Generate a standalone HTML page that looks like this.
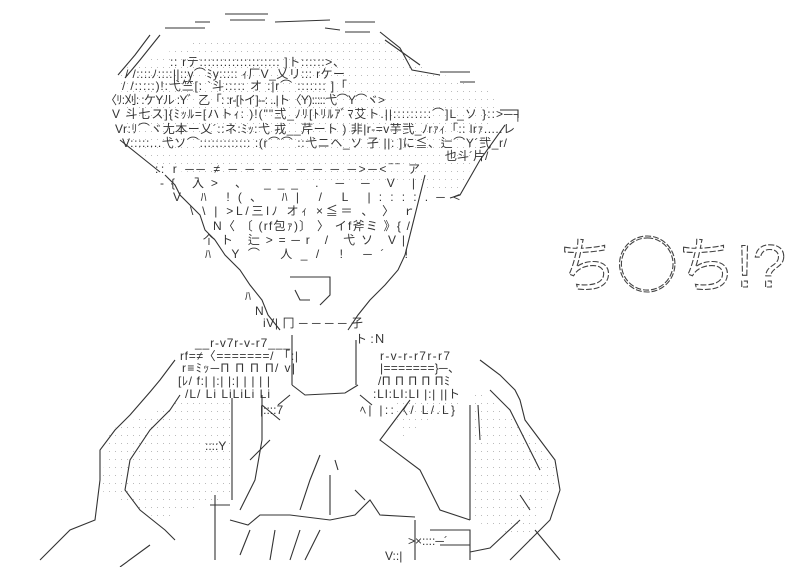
<!DOCTYPE html>
<html><head><meta charset="utf-8"><style>
html,body{margin:0;padding:0;background:#fff;}
svg{display:block}
.t{font-family:"Liberation Sans","Noto Sans CJK JP",sans-serif;font-size:12px;fill:#333}
</style></head><body>
<svg width="799" height="567" viewBox="0 0 799 567" xmlns="http://www.w3.org/2000/svg">
<defs>
<pattern id="d" width="6" height="8" patternUnits="userSpaceOnUse"><rect x="1" y="3" width="1" height="1" fill="#bbb"/></pattern>
</defs>
<path d="M205,38 L300,38 L380,40 L430,70 L500,95 L480,150 L460,190 L160,170 L125,140 L120,70 Z" fill="url(#d)"/>
<path d="M175,402 L232,400 L232,495 L160,520 L100,490 L110,430 Z" fill="url(#d)"/>
<path d="M395,400 L470,400 L470,520 L530,540 L560,470 L525,430 L480,390 L400,440 Z" fill="url(#d)"/>
<g fill="none" stroke="#333" stroke-width="1.1">
<path d="M195,22 L210,22 M230,20 L265,20 M275,22 L330,20 M345,22 L375,22 M225,14 L268,14"/>
<path d="M165,28 L205,28 M150,35 L135,55 L118,75 M160,35 L140,60 L125,78"/>
<path d="M325,28 L340,30 M345,32 L370,32 M380,32 L400,48 L412,70 L440,75 M385,40 L420,65 M440,72 L470,72 M460,82 L475,82 M500,110 L518,110 L518,118"/>
<path d="M120,140 L160,172 M505,125 L480,160 L460,195 L450,198"/>
<path d="M165,175 L175,185 L180,195 L200,215 L205,230 L215,240 L225,255 L240,270 L250,285 L262,300 L268,315 L280,330"/>
<path d="M425,175 L420,195 L415,215 L410,235 L405,255 L398,270 L385,285 L370,300 L358,315 L348,330"/>
<path d="M290,277 L330,277 L330,295 L320,305 M295,290 L300,300 L310,300"/>
<path d="M292,335 L292,385 M356,340 L356,385"/>
<path d="M292,385 L305,395 L345,393 L358,385 M290,395 L278,405 M360,395 L372,405"/>
<path d="M175,360 L160,380 L150,392 L130,415 L115,430 L100,450 L100,480 L95,520 L70,530 L40,560"/>
<path d="M180,395 L170,410 L150,430 L130,460 L125,490 L140,510 L165,530 L175,540 M150,545 L120,567"/>
<path d="M232,398 L232,500 M215,495 L215,560 M210,505 L230,505"/>
<path d="M262,395 L262,440 L255,480 L240,510 M262,405 L280,420 M270,440 L250,460"/>
<path d="M230,520 L248,525 L260,515 L290,515 L330,520 L355,515 L370,500 L380,515 L415,517 M330,515 L330,475"/>
<path d="M320,455 L310,480 L300,510 M335,460 L338,470 M355,490 L365,500"/>
<path d="M250,530 L240,555 M275,530 L270,560 M300,530 L290,560 M320,530 L305,560"/>
<path d="M410,400 L395,420 L380,440 L420,470 L440,510 L470,520 M470,405 L470,520 M478,405 L480,440"/>
<path d="M480,360 L500,375 L515,390 L520,400 L525,420 L540,440 L555,460 L560,490 L550,520 L530,540 L510,560"/>
<path d="M490,390 L510,410 L520,430 L530,450 L540,470 M520,495 L530,510 M535,530 L560,560"/>
<path d="M415,520 L415,560 M430,530 L470,530 L470,560 M440,545 L470,545 M470,552 L490,548 L520,520"/>
</g>
<text class="t" x="170" y="66" textLength="175" lengthAdjust="spacing">:: rテ:::::::::::::::::::: ]ト::::::&gt;、</text>
<text class="t" x="125" y="78" textLength="220" lengthAdjust="spacing">/ /::::ﾉ::::||::γ⌒ﾐy::::: ｨ厂V_乂リ::: rケー</text>
<text class="t" x="122" y="90" textLength="225" lengthAdjust="spacing">/ /:::::)!:弋竺[: `斗::::: オ :|r⌒ ::::::: ]「</text>
<text class="t" x="105" y="104" textLength="280" lengthAdjust="spacing">〈ﾘ:刈: :ケYル :Y゛乙「: :r-[ﾄイ]--: ..|ト〈Y):::::弋⌒Y⌒ヾ&gt;</text>
<text class="t" x="112" y="118" textLength="410" lengthAdjust="spacing">V 斗七ス]{ﾐｯﾙ=[ハトｨ: )!(""弍_ﾉﾘ[ﾄﾘﾙｱﾞﾏ艾ト.||:::::::::⌒]L_ソ }::&gt;─┐</text>
<text class="t" x="115" y="133" textLength="400" lengthAdjust="spacing">Vr:ﾘ⌒ヾ尢本ー乂´::ネ:ﾐｯ:弋 戎__芹ート ) 非|r-=v芋弐_ﾉrｧｨ「:: lrｧ.....レ</text>
<text class="t" x="122" y="147" textLength="385" lengthAdjust="spacing">V:::::...弋ソ⌒::::::::::::: :(r⌒⌒ ::弋ニヘ_ソ 孑 ||: ]に≦、辷⌒Y´弐_r/</text>
<text class="t" x="445" y="160">也斗´片/</text>
<text class="t" x="155" y="173" textLength="265" lengthAdjust="spacing">:: r  ──       ≠ ─ ─ ─ ─ ─ ─ ─ ─&gt;─&lt;‾‾ ア</text>
<text class="t" x="160" y="187" textLength="255" lengthAdjust="spacing">-{        入&gt;  、 ___  .    ─ ─       V    |</text>
<text class="t" x="173" y="201" textLength="287" lengthAdjust="spacing">V ﾊ    !(、  ﾊ|          /     L    |::::.─&lt;</text>
<text class="t" x="190" y="215" textLength="225" lengthAdjust="spacing">\ \ |  &gt;L/三lﾉ オｨ      ×≦＝ 、   〉  ｒ</text>
<text class="t" x="213" y="230" textLength="197" lengthAdjust="spacing">N〈 〔 (rf包ｧ)〕 〉    イf斧ミ  》{  /</text>
<text class="t" x="203" y="244" textLength="202" lengthAdjust="spacing">个ト  辷&gt;=─r    /     弋ソ       V|</text>
<text class="t" x="205" y="258" textLength="203" lengthAdjust="spacing">ﾊ     Y⌒ 人_/    !      ─´     !</text>
<text class="t" x="245" y="300">ﾊ</text>
<text class="t" x="255" y="315">N</text>
<text class="t" x="263" y="327" textLength="100" lengthAdjust="spacing">iV| 冂   ─ ─ ─ ─ 孑</text>
<text class="t" x="355" y="343">ト :Ｎ</text>
<text class="t" x="195" y="347" textLength="95" lengthAdjust="spacing">__r‐v7r‐v‐r7___</text>
<text class="t" x="180" y="360" textLength="118" lengthAdjust="spacing">rf=≠〈=======/ 「:|</text>
<text class="t" x="182" y="372" textLength="113" lengthAdjust="spacing">r≡ﾐｯ─Π Π Π Π/  v|</text>
<text class="t" x="178" y="385" textLength="92" lengthAdjust="spacing">[ﾚ/ f:| |:| |:| | | | |</text>
<text class="t" x="185" y="398" textLength="85" lengthAdjust="spacing">/L/  Li LiLiLi Li</text>
<text class="t" x="380" y="360" textLength="70" lengthAdjust="spacing">r‐v‐r‐r7r‐r7</text>
<text class="t" x="380" y="372" textLength="80" lengthAdjust="spacing">|=======}─、</text>
<text class="t" x="378" y="385" textLength="72" lengthAdjust="spacing">/Π Π Π Π Πﾐ</text>
<text class="t" x="373" y="398" textLength="87" lengthAdjust="spacing">:LI:LI:LI |:| ||ト</text>
<text class="t" x="360" y="414" textLength="95" lengthAdjust="spacing">ﾍ|   |::〈/ L/.L}</text>
<text class="t" x="260" y="414">|::::7</text>
<text class="t" x="205" y="450">::::Y</text>
<text class="t" x="408" y="545">&gt;×::::─´</text>
<text class="t" x="385" y="560">V::|</text>
<text x="558" y="287" textLength="228" lengthAdjust="spacingAndGlyphs" font-family="Liberation Sans,'Noto Sans CJK JP',sans-serif" font-size="60" fill="none" stroke="#444" stroke-width="1.1" stroke-dasharray="6 2">ち◯ち!?</text>
</svg>
</body></html>
